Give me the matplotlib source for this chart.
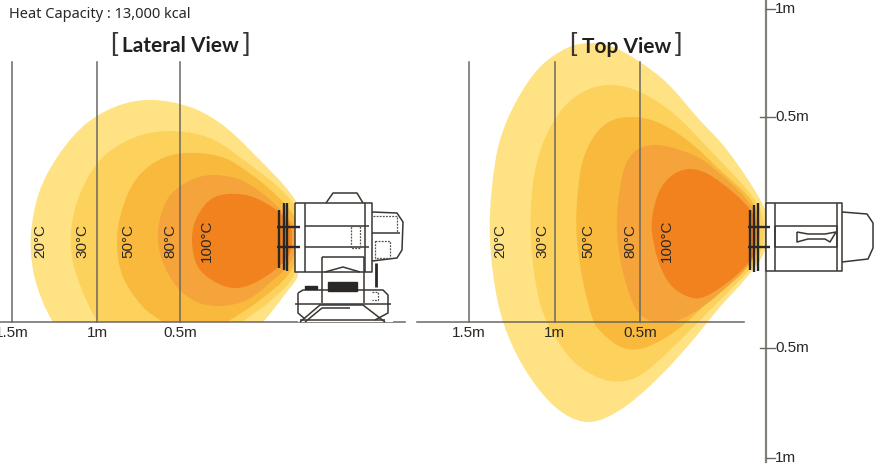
import matplotlib
matplotlib.use("Agg")
import matplotlib.pyplot as plt
from matplotlib.path import Path
from matplotlib.patches import PathPatch, Rectangle
from math import hypot

temps = ["20°C", "30°C", "50°C", "80°C", "100°C"]
colors = ["#FEE283", "#FDD25C", "#F8B93D", "#F5A33B", "#F1821E"]

side_20 = [(297,203),(250,150),(220,123),(190,107),(153,100),(120,105),(87,123),(60,153),(40,190),(31,233),(33,270),(42,300),(53,322),(70,345),(240,345),(263,322),(283,297),(300,272),(304,240)]
side_30 = [(293,203),(237,155),(207,137),(167,131),(133,138),(103,157),(83,187),(72,223),(72,257),(82,290),(98,322),(120,345),(225,345),(243,322),(268,303),(293,277),(301,240)]
side_50 = [(290,210),(233,162),(197,153),(163,158),(137,178),(122,210),(117,243),(123,277),(143,307),(163,322),(185,335),(205,335),(227,322),(260,300),(290,272),(298,240)]
side_80 = [(290,220),(247,183),(213,175),(187,182),(167,200),(158,232),(162,260),(177,287),(197,302),(220,306),(247,300),(273,280),(290,263),(296,240)]
side_100 = [(287,220),(260,200),(237,194),(213,198),(197,217),(192,240),(198,267),(217,283),(237,288),(260,280),(287,258),(292,238)]
side_shapes = [side_20, side_30, side_50, side_80, side_100]

top_20 = [(762,203),(727,150),(697,117),(667,83),(640,62),(613,47),(590,43),(567,48),(540,67),(517,100),(500,140),(492,187),(490,240),(498,303),(513,347),(537,387),(563,413),(590,422),(620,410),(653,383),(687,347),(720,307),(747,277),(763,255),(769,228)]
top_30 = [(757,203),(707,147),(673,113),(640,92),(612,85),(587,90),(563,108),(543,143),(533,183),(531,240),(540,303),(557,340),(580,367),(610,381),(637,377),(670,350),(707,313),(740,280),(757,260),(764,232)]
top_50 = [(753,203),(720,170),(687,140),(657,122),(630,117),(607,123),(590,143),(580,173),(577,240),(593,320),(610,340),(627,349),(647,347),(677,330),(707,303),(733,277),(753,260),(760,232)]
top_80 = [(752,207),(707,163),(680,150),(653,145),(633,153),(622,177),(617,232),(627,287),(643,317),(670,322),(693,313),(720,293),(750,263),(757,235)]
top_100 = [(752,212),(713,177),(690,169),(670,177),(657,197),(652,232),(667,280),(693,298),(717,290),(752,258),(756,235)]
top_shapes = [top_20, top_30, top_50, top_80, top_100]

side_label_x = [40, 82, 128, 170, 207]
top_label_x = [500, 542, 588, 630, 667]
dist_labels = ["1.5m", "1m", "0.5m"]
side_dist_x = [12, 97, 180]
top_dist_x = [469, 554.5, 640]
right_labels = ["1m", "0.5m", "0.5m", "1m"]
right_y = [9, 117, 348, 458]

grille_side = [[(279,210),(279,268)], [(284,203),(284,270)], [(287,203),(287,271)],
               [(277,227),(300,227)], [(277,247),(300,247)]]
heater_side = [
    [(295,203),(372,203),(372,272),(295,272),(295,203)],
    [(305,203),(305,272)], [(365,203),(365,272)],
    [(305,226),(369,226)], [(305,247),(369,247)],
    [(326,203),(333,193),(357,193),(363,203)],
    [(372,212),(397,213),(403,222),(402,250),(397,258),(372,261)],
    [(372,233),(400,233)],
    [(322,257),(322,303)], [(322,257),(364,257)], [(364,257),(364,303)],
    [(298,293),(303,290),(383,290),(388,295),(388,313),(375,320)],
    [(298,293),(298,313),(305,319)],
    [(295,304),(391,304)],
    [(300,322),(320,305),(363,305),(385,322)],
    [(305,322),(322,308),(350,308)],
    [(325,272),(343,267),(360,272)],
    [(300,320),(385,320)],
]
heater_side_dash = [
    [(351,226),(360,226),(360,248),(351,248),(351,226)],
    [(373,216),(397,216),(397,232)],
    [(375,241),(390,241),(390,258),(375,258),(375,241)],
    [(372,292),(378,292),(378,300),(372,300)],
]
side_rod = [(376,263),(376,287)]
side_block = [(328,282),(357,282),(357,291),(328,291)]
side_latch = [(305,286),(317,286),(317,289),(305,289)]

grille_top = [[(750,210),(750,270)], [(754,205),(754,272)], [(758,203),(758,271)],
              [(748,227),(770,227)], [(748,247),(770,247)]]
heater_top = [
    [(766,203),(842,203),(842,271),(766,271),(766,203)],
    [(775,203),(775,271)], [(837,203),(837,271)],
    [(775,226),(837,226),(837,247),(775,247),(775,226)],
    [(797,232),(808,234),(825,234),(836,232),(830,242),(825,239),(808,239),(797,242),(797,232)],
    [(842,212),(867,214),(873,223),(873,248),(868,259),(842,262)],
]

fig = plt.figure(figsize=(8.83, 4.67), dpi=100)
ax = fig.add_axes([0, 0, 1, 1])
ax.set_xlim(0, 883)
ax.set_ylim(467, 0)
ax.axis("off")

GREY = "#6b6763"
SANS = ["Liberation Sans", "DejaVu Sans"]


def blob(pts, color, clip=None):
    # closed smooth curve through the points, handles scaled by segment length
    n = len(pts)
    dirs = []
    for i in range(n):
        a, b = pts[i - 1], pts[(i + 1) % n]
        d = hypot(b[0] - a[0], b[1] - a[1])
        dirs.append(((b[0] - a[0]) / d, (b[1] - a[1]) / d))
    verts = [pts[0]]
    codes = [Path.MOVETO]
    for i in range(n):
        j = (i + 1) % n
        p, q = pts[i], pts[j]
        s = hypot(q[0] - p[0], q[1] - p[1]) / 3
        verts.append((p[0] + dirs[i][0] * s, p[1] + dirs[i][1] * s))
        verts.append((q[0] - dirs[j][0] * s, q[1] - dirs[j][1] * s))
        verts.append(q)
        codes += [Path.CURVE4] * 3
    patch = PathPatch(Path(verts, codes), facecolor=color, edgecolor="none", zorder=1)
    ax.add_patch(patch)
    if clip is not None:
        patch.set_clip_path(clip)


def draw(segs, lw=1.0, color="#3a3633", ls="-", zorder=4):
    for seg in segs:
        ax.plot([p[0] for p in seg], [p[1] for p in seg], color=color, lw=lw, ls=ls,
                zorder=zorder, solid_capstyle="butt")


# lateral view is cut off at the floor line
floor = Rectangle((0, 0), 420, 322, transform=ax.transData)
for pts, c in zip(side_shapes, colors):
    blob(pts, c, clip=floor)
for pts, c in zip(top_shapes, colors):
    blob(pts, c)

# grid lines
for x in side_dist_x:
    ax.plot([x, x], [62, 322], color=GREY, lw=1.1, zorder=2)
for x in top_dist_x:
    ax.plot([x, x], [62, 322], color=GREY, lw=1.1, zorder=2)
ax.plot([0, 405], [322, 322], color=GREY, lw=1.1, zorder=2)
ax.plot([417, 744], [322, 322], color=GREY, lw=1.1, zorder=2)
ax.plot([766, 766], [0, 462], color="#84807c", lw=1.6, zorder=2)
for y in right_y:
    ax.plot([760 if y in (117, 348) else 766, 775], [y, y], color=GREY, lw=1.0, zorder=2)

# heaters
ax.add_patch(Rectangle((295, 203), 77, 69, facecolor="white", edgecolor="none", zorder=3))
ax.add_patch(Rectangle((298, 272), 95, 50, facecolor="white", edgecolor="none", zorder=3))
ax.add_patch(Rectangle((766, 203), 76, 68, facecolor="white", edgecolor="none", zorder=3))
draw(heater_side, lw=1.1)
draw(heater_side_dash, lw=0.9, ls=(0, (1.5, 1)), color="#55514e")
draw([side_rod], lw=2, color="#2a2725")
for block in (side_block, side_latch):
    ax.fill([p[0] for p in block], [p[1] for p in block], color="#2a2725", zorder=4)
draw(grille_side, lw=1.7, color="#2a2725", zorder=5)
draw(heater_top, lw=1.1)
draw(grille_top, lw=1.7, color="#2a2725", zorder=5)

# text
for xs in (side_label_x, top_label_x):
    for x, t in zip(xs, temps):
        ax.text(x, 241, t, rotation=90, ha="center", va="center", fontsize=11,
                family=SANS, color="#2a2725", zorder=6)
for xs in (side_dist_x, top_dist_x):
    for x, t in zip(xs, dist_labels):
        ax.text(x, 333, t, ha="center", va="center", fontsize=11, family=SANS, color="#2a2725", zorder=6)
for y, t in zip(right_y, right_labels):
    ax.text(775, y, t, ha="left", va="center", fontsize=11, family=SANS, color="#2a2725", zorder=6)

ax.text(9, 14, "Heat Capacity : 13,000 kcal", ha="left", va="center", fontsize=10.5,
        family="Noto Sans", color="#2a2725")
ax.text(180, 45.5, "Lateral View", ha="center", va="center", fontsize=15, fontweight="bold",
        family="Lato", color="#231f1c", zorder=6)
ax.text(627, 47, "Top View", ha="center", va="center", fontsize=15, fontweight="bold",
        family="Lato", color="#231f1c", zorder=6)
for x, b in [(114, "["), (246, "]"), (573, "["), (678, "]")]:
    ax.text(x, 44, b, ha="center", va="center", fontsize=19, family="Liberation Sans",
            color="#3a3633", zorder=6)

fig.savefig("out.png", dpi=100)
